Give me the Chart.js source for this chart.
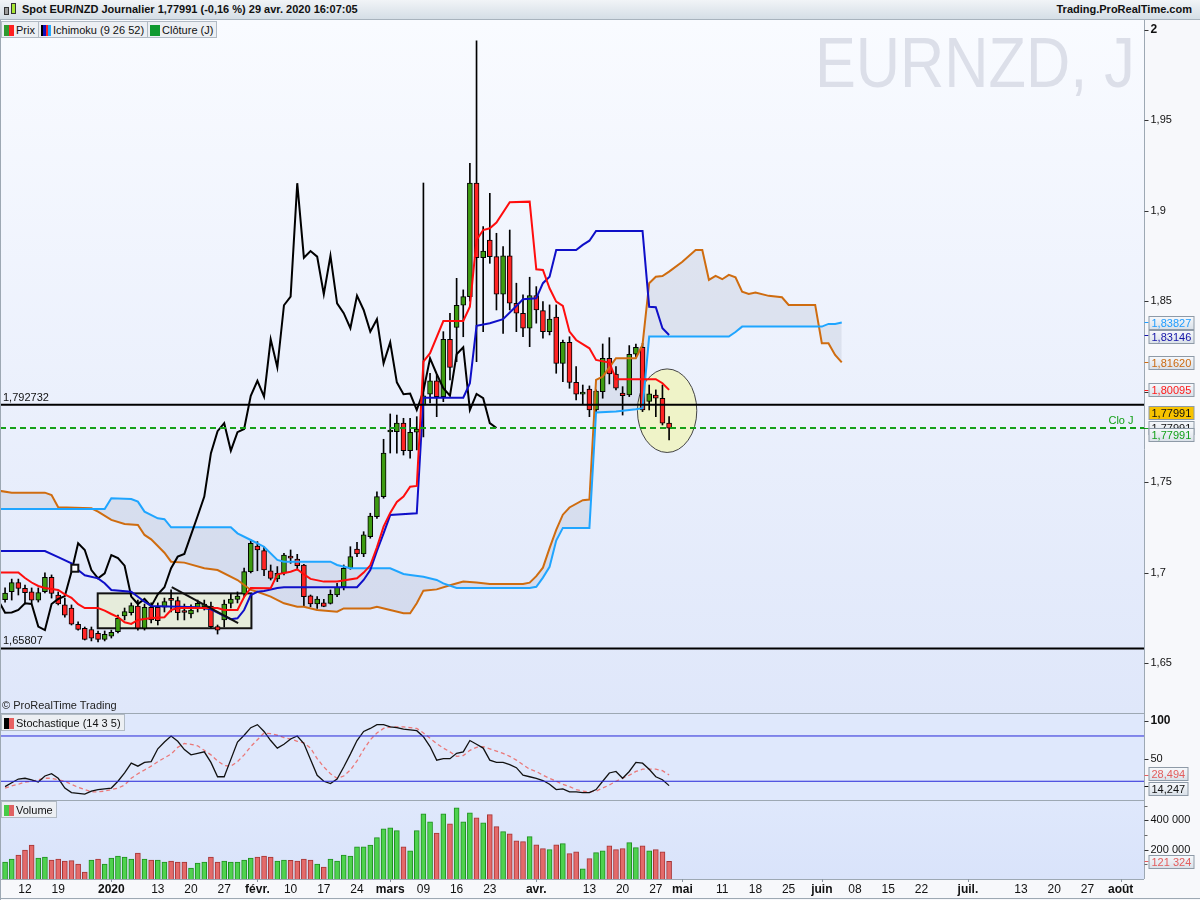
<!DOCTYPE html>
<html lang="fr">
<head>
<meta charset="utf-8">
<title>EURNZD, J</title>
<script src="https://cdn.jsdelivr.net/npm/chart.js@4.4.1/dist/chart.umd.min.js"></script>
<style>
body{margin:0;background:#fff;font-family:"Liberation Sans",Arial,sans-serif;}
#wrap{position:relative;width:1200px;height:900px;overflow:hidden;}
#c{position:absolute;left:0;top:0;}
.hdr{position:absolute;left:0;top:0;width:1200px;height:19px;line-height:19px;background:linear-gradient(#f1f4f7,#d5dee6);border-bottom:1px solid #a8b3bd;font-weight:bold;font-size:11px;color:#111;}
.hdr .ttl{position:absolute;left:22px;top:0;}
.hdr .site{position:absolute;right:8px;top:0;}
.ico i{position:absolute;width:5px;border:1px solid #333;box-sizing:border-box;}
.legs{position:absolute;left:1px;display:flex;}
.leg{height:17px;line-height:16px;font-size:11px;color:#111;background:#eceff3;border:1px solid #b1bac4;padding:0 3px 0 2px;white-space:nowrap;box-sizing:border-box;margin-right:-1px;}
.sw{display:inline-block;width:10px;height:11px;vertical-align:-2px;margin-right:2px;}
.copy{position:absolute;left:2px;top:699px;font-size:11px;color:#222;}
.wm{position:absolute;left:815px;top:28px;font-size:70px;line-height:1;color:#dcdfe9;transform:scaleX(.875);transform-origin:left top;white-space:nowrap;}
</style>
</head>
<body>
<div id="wrap">
<canvas id="c" width="1200" height="900"></canvas>
<div class="hdr">
  <span class="ico"><i style="left:4px;top:7px;height:8px;background:#9a9a9a"></i><i style="left:11px;top:3px;height:11px;background:#a6e634"></i></span>
  <span class="ttl">Spot EUR/NZD Journalier 1,77991 (-0,16 %) 29 avr. 2020 16:07:05</span>
  <span class="site">Trading.ProRealTime.com</span>
</div>
<div class="wm">EURNZD, J</div>
<div class="legs" style="top:21px">
  <div class="leg"><b class="sw" style="background:linear-gradient(90deg,#2f9a2f 50%,#ff2020 50%)"></b>Prix</div>
  <div class="leg"><b class="sw" style="background:linear-gradient(90deg,#000 25%,#1010c0 25%,#1010c0 50%,#ff2020 50%,#ff2020 75%,#22a8ff 75%)"></b>Ichimoku (9 26 52)</div>
  <div class="leg"><b class="sw" style="background:#109a30"></b>Clôture (J)</div>
</div>
<div class="copy">© ProRealTime Trading</div>
<div class="legs" style="top:714px">
  <div class="leg"><b class="sw" style="background:linear-gradient(90deg,#000 50%,#e86060 50%)"></b>Stochastique (14 3 5)</div>
</div>
<div class="legs" style="top:801px">
  <div class="leg"><b class="sw" style="background:linear-gradient(90deg,#46cc46 50%,#e06262 50%)"></b>Volume</div>
</div>
</div>

<script>
// ---- data (one entry per trading day, first one = 9 déc. 2019) ----
const FIRST_DAY = -3;   // day index of the first candle, day 0 = 12 déc.

const opens = [1.6850,1.6894,1.6944,1.6913,1.6894,1.6848,1.6894,1.6974,1.6876,1.6821,
  1.6804,1.6714,1.6692,1.6685,1.6664,1.6631,1.6649,1.6673,1.6760,1.6778,
  1.6815,1.6692,1.6808,1.6808,1.6808,1.6850,1.6845,1.6782,1.6771,1.6802,
  1.6810,1.6815,1.6701,1.6738,1.6830,1.6852,1.6882,1.7005,1.7147,1.7121,
  1.7010,1.6965,1.6996,1.7084,1.7075,1.7042,1.6871,1.6826,1.6833,1.6830,
  1.6876,1.6922,1.7024,1.7130,1.7103,1.7198,1.7309,1.7420,1.7777,1.7779,
  1.7826,1.7674,1.7776,1.7927,1.7986,1.8060,1.7973,1.8290,1.8356,1.8478,
  1.8526,1.9153,1.8741,1.8839,1.8747,1.8539,1.8752,1.8489,1.8434,1.8351,
  1.8531,1.8448,1.8332,1.8412,1.8157,1.8273,1.8052,1.7987,1.8014,1.7899,
  1.8000,1.8185,1.8098,1.7993,1.7982,1.8207,1.8246,1.7946,1.7982,1.7964,
  1.7826];
const highs = [1.6915,1.6964,1.6964,1.6931,1.6915,1.6915,1.6998,1.6987,1.6893,1.6859,
  1.6821,1.6727,1.6699,1.6699,1.6677,1.6677,1.6682,1.6765,1.6804,1.6832,
  1.6848,1.6826,1.6832,1.6832,1.6859,1.6904,1.6865,1.6826,1.6821,1.6848,
  1.6848,1.6837,1.6710,1.6848,1.6882,1.6893,1.7025,1.7180,1.7171,1.7143,
  1.7042,1.7033,1.7107,1.7125,1.7101,1.7045,1.6876,1.6867,1.6852,1.6904,
  1.6941,1.7042,1.7143,1.7167,1.7226,1.7328,1.7447,1.7737,1.7877,1.7871,
  1.7853,1.7853,1.7862,1.9154,1.8102,1.8093,1.8332,1.8434,1.8627,1.8563,
  1.9263,1.9940,1.8913,1.9097,1.8876,1.8802,1.8894,1.8600,1.8535,1.8633,
  1.8581,1.8498,1.8480,1.8480,1.8286,1.8304,1.8139,1.8037,1.8032,1.8010,
  1.8264,1.8299,1.8139,1.8028,1.8255,1.8264,1.8268,1.8037,1.8010,1.8037,
  1.7862];
const lows = [1.6837,1.6848,1.6876,1.6826,1.6832,1.6837,1.6887,1.6859,1.6821,1.6754,
  1.6710,1.6682,1.6627,1.6622,1.6616,1.6622,1.6638,1.6666,1.6738,1.6765,
  1.6682,1.6682,1.6721,1.6710,1.6782,1.6782,1.6738,1.6738,1.6749,1.6782,
  1.6793,1.6694,1.6660,1.6699,1.6804,1.6832,1.6865,1.6998,1.7010,1.6983,
  1.6959,1.6950,1.6987,1.7051,1.7014,1.6811,1.6811,1.6802,1.6811,1.6826,
  1.6867,1.6904,1.7018,1.7088,1.7088,1.7190,1.7300,1.7411,1.7661,1.7660,
  1.7650,1.7632,1.7678,1.7750,1.7938,1.7862,1.7945,1.8065,1.8166,1.8304,
  1.8500,1.8166,1.8332,1.8710,1.8452,1.8323,1.8452,1.8332,1.8304,1.8249,
  1.8379,1.8296,1.8314,1.8102,1.8056,1.8019,1.7954,1.7932,1.7862,1.7881,
  1.7964,1.8043,1.8010,1.7871,1.7973,1.8194,1.7890,1.7899,1.7862,1.7816,
  1.7733];
const closes = [1.6887,1.6944,1.6913,1.6889,1.6848,1.6889,1.6974,1.6885,1.6826,1.6765,
  1.6714,1.6686,1.6631,1.6637,1.6631,1.6659,1.6670,1.6747,1.6784,1.6817,
  1.6692,1.6808,1.6738,1.6734,1.6839,1.6846,1.6778,1.6779,1.6793,1.6830,
  1.6826,1.6701,1.6682,1.6826,1.6854,1.6870,1.7005,1.7162,1.7125,1.7014,
  1.6968,1.6996,1.7097,1.7080,1.7038,1.6867,1.6826,1.6854,1.6813,1.6880,
  1.6919,1.7024,1.7088,1.7103,1.7208,1.7313,1.7420,1.7660,1.7782,1.7826,
  1.7674,1.7776,1.7794,1.7977,1.8060,1.7973,1.8290,1.8135,1.8478,1.8526,
  1.9153,1.8741,1.8778,1.8747,1.8539,1.8752,1.8489,1.8434,1.8351,1.8531,
  1.8452,1.8332,1.8401,1.8157,1.8273,1.8052,1.7986,1.7990,1.7899,1.8004,
  1.8185,1.8098,1.8019,1.7978,1.8207,1.8246,1.7899,1.7988,1.7964,1.7826,
  1.7799];
const volumes = [116000,136000,164000,198000,232000,143000,150000,130000,136000,123000,
  125000,102000,48000,130000,136000,102000,143000,157000,150000,136000,
  177000,136000,130000,130000,116000,123000,116000,116000,75000,109000,
  116000,150000,116000,123000,116000,116000,130000,143000,150000,157000,
  150000,123000,130000,127000,123000,136000,130000,102000,82000,136000,
  123000,164000,157000,220000,220000,232000,282000,343000,350000,330000,
  220000,193000,330000,445000,391000,314000,445000,377000,486000,391000,
  452000,418000,384000,439000,357000,323000,309000,261000,255000,289000,
  234000,207000,200000,234000,241000,173000,186000,70000,139000,180000,
  193000,227000,200000,207000,248000,214000,227000,193000,200000,186000,
  121324];
// 1 = green volume bar, 0 = red
const volUp = [1,1,0,0,0,1,1,0,0,0, 0,0,0,1,0,1,1,1,1,1, 0,1,0,1,1,0,0,0,1,1,
  1,0,0,1,1,1,1,1,0,0, 0,1,1,0,0,0,0,1,0,1, 1,1,1,1,1,1,1,1,1,1,
  0,1,1,1,1,0,1,0,1,1, 1,0,1,0,0,1,0,0,0,1, 0,0,1,0,1,0,0,1,0,1,
  1,0,0,0,1,1,0,1,0,0, 0];
const stochK = [13,18,23,24,22,19,27,30,24,11, 5,4,3,7,9,10,11,20,31,44,
  40,45,46,63,72,80,73,62,55,57, 59,45,26,26,49,72,81,91,95,86,
  74,64,69,76,80,70,49,28,20,17, 23,39,56,74,86,90,95,95,92,91,
  89,88,87,79,66,48,50,50,57,59, 74,69,64,48,45,45,42,38,28,26,
  24,21,16,9,10,6,6,5,5,9, 20,31,33,24,33,45,44,36,26,22,
  14.247];
const stochD = [11,14,16,19,20,22,24,24,22,20, 16,12,9,6,6,7,9,11,15,24,
  30,35,40,46,51,56,65,70,69,67, 61,55,47,41,40,46,55,66,75,84,
  83,81,78,76,73,71,64,50,39,30, 24,27,35,47,62,75,84,90,92,92,
  92,91,90,84,77,70,64,59,53,54, 61,65,66,63,60,57,53,48,42,36,
  33,28,24,20,16,13,9,7,6,7, 11,15,20,24,28,33,36,36,36,34,
  28.494];

// Ichimoku lines, [day index, price] at the vertices seen on the chart
const tenkan = [[-4,1.7000],[-1,1.7000],[0,1.6970],[1,1.6945],[2,1.6926],[3,1.6915],[5,1.6904],[6,1.6880],
  [7,1.6860],[8,1.6825],[9,1.6804],[11,1.6804],[12,1.6790],[13,1.6771],[14,1.6754],[15,1.6725],[16,1.6716],
  [17,1.6738],[19,1.6749],[21,1.6753],[22,1.6793],[23,1.6804],[29,1.6804],[30,1.6793],[32,1.6793],[33,1.6865],
  [34,1.6915],[37,1.6913],[38,1.6990],[40,1.7005],[41,1.7018],[42,1.6990],[43,1.6965],[45,1.6950],[47,1.6950],
  [50,1.6968],[51,1.7000],[52,1.7040],[53,1.7140],[54,1.7254],[55,1.7330],[56,1.7390],[57,1.7420],[58,1.7475],
  [59,1.7479],[60,1.8166],[61,1.8213],[63,1.8391],[66,1.8391],[67,1.8470],[68,1.8839],[69,1.8894],[70,1.8904],
  [71,1.8935],[73,1.9048],[76,1.9051],[77,1.8677],[78,1.8673],[79,1.8572],[80,1.8498],[81,1.8474],[82,1.8332],
  [83,1.8286],[85,1.8240],[86,1.8176],[88,1.8161],[89,1.8069],[95,1.8069],[96,1.8047],[97,1.8010]];
const kijun = [[-4,1.7119],[3,1.7119],[5,1.7085],[7,1.7051],[8,1.7014],[9,1.6985],[11,1.6968],[12,1.6941],
  [13,1.6904],[16,1.6894],[18,1.6839],[19,1.6815],[26,1.6808],[28,1.6797],[31,1.6742],[32,1.6747],[33,1.6793],
  [34,1.6876],[35,1.6894],[36,1.6898],[38,1.6915],[39,1.6919],[50,1.6919],[51,1.6959],[52,1.7014],[53,1.7120],
  [54,1.7217],[55,1.7318],[59,1.7328],[60,1.7967],[66,1.7967],[67,1.8047],[68,1.8364],[70,1.8379],[72,1.8401],
  [74,1.8474],[75,1.8511],[77,1.8517],[78,1.8600],[79,1.8636],[80,1.8784],[83,1.8784],[84,1.8812],[85,1.8835],
  [86,1.8889],[93,1.8889],[94,1.8470],[95,1.8467],[96,1.8351],[97,1.8314]];
const senkouA = [[-4,1.7453],[-2,1.7442],[3,1.7442],[4,1.7429],[5,1.7361],[10,1.7355],[11,1.7337],[13,1.7291],
  [15,1.7269],[17,1.7263],[18,1.7208],[19,1.7184],[21,1.7110],[22,1.7060],[24,1.7055],[27,1.7024],[29,1.7014],
  [32,1.6959],[34,1.6904],[35,1.6894],[37,1.6867],[39,1.6830],[41,1.6811],[42,1.6811],[44,1.6793],[47,1.6784],
  [48,1.6802],[52,1.6802],[53,1.6811],[55,1.6793],[57,1.6775],[58,1.6775],[59,1.6830],[60,1.6900],[62,1.6907],
  [64,1.6930],[66,1.6950],[68,1.6945],[70,1.6937],[75,1.6937],[76,1.6944],[77,1.6980],[78,1.7027],[79,1.7135],
  [80,1.7236],[81,1.7320],[82,1.7360],[84,1.7400],[85,1.7404],[86,1.8065],[87,1.8083],[89,1.8185],[92,1.8185],
  [93,1.8260],[94,1.8600],[95,1.8636],[96,1.8640],[97,1.8664],[99,1.8719],[101,1.8784],[102,1.8784],[103,1.8618],
  [104,1.8640],[105,1.8622],[106,1.8646],[107,1.8633],[108,1.8553],[109,1.8541],[110,1.8548],[112,1.8530],
  [114,1.8522],[115,1.8480],[119,1.8480],[120,1.8268],[121,1.8268],[122,1.8203],[123,1.8162]];
const senkouB = [[-4,1.7352],[12,1.7352],[13,1.7411],[16,1.7407],[17,1.7392],[18,1.7337],[20,1.7300],[21,1.7295],
  [22,1.7250],[31,1.7250],[32,1.7217],[34,1.7180],[36,1.7143],[38,1.7070],[39,1.7060],[46,1.7060],[47,1.7042],
  [49,1.7024],[55,1.7024],[57,1.6992],[58,1.6987],[60,1.6977],[62,1.6959],[63,1.6940],[65,1.6915],[76,1.6915],
  [77,1.6921],[78,1.6972],[79,1.7032],[80,1.7177],[81,1.7247],[85,1.7247],[86,1.7885],[89,1.7890],[92,1.7903],
  [93,1.7909],[94,1.8305],[106,1.8305],[107,1.8330],[108,1.8360],[120,1.8360],[121,1.8375],[122,1.8375],[123,1.8383]];
// lagging line (close plotted 26 days back), first value sits on day -4
const CHIKOU_FIRST = -4;
const chikou = [1.6846,1.6778,1.6779,1.6793,1.6830,1.6826,1.6701,1.6682,1.6826,1.6854,
  1.6870,1.7005,1.7162,1.7125,1.7014,1.6968,1.6996,1.7097,1.7080,1.7038,
  1.6867,1.6826,1.6854,1.6813,1.6880,1.6919,1.7024,1.7088,1.7103,1.7208,
  1.7313,1.7420,1.7660,1.7782,1.7826,1.7674,1.7776,1.7794,1.7977,1.8060,
  1.7973,1.8290,1.8135,1.8478,1.8526,1.9153,1.8741,1.8778,1.8747,1.8539,
  1.8752,1.8489,1.8434,1.8351,1.8531,1.8452,1.8332,1.8401,1.8157,1.8273,
  1.8052,1.7986,1.7990,1.7899,1.8004,1.8185,1.8098,1.8019,1.7978,1.8207,
  1.8246,1.7899,1.7988,1.7964,1.7826,1.7799];

// levels and drawn objects
const LEVEL_HIGH = 1.792732, LEVEL_LOW = 1.65807, LAST_CLOSE = 1.77991;
const BOX = {d0: 10.95, d1: 34.1, p0: 1.6692, p1: 1.6885};
const TREND = [[22.1, 1.6919], [32.1, 1.6720]];
const MARK = [7.5, 1.7024];
const CIRCLE = {d: 96.7, p: 1.7895, dd: 4.47, dp: 0.0231};

// axis ticks
const xTickIdx = [0,5,13,20,25,30,35,40,45,50,55,60,65,70,77,85,90,95,99,105,110,115,120,125,130,135,142,150,155,160,165];
const xTickLabels = ['12','19','2020','13','20','27','févr.','10','17','24','mars','09','16','23','avr.','13','20','27',
  'mai','11','18','25','juin','08','15','22','juil.','13','20','27','août'];
const xTickBold = [0,0,1,0,0,0,1,0,0,0,1,0,0,0,1,0,0,0,1,0,0,0,1,0,0,0,1,0,0,0,1];
const priceTicks = [1.65,1.7,1.75,1.8,1.85,1.9,1.95,2];
const priceTickLabels = ['1,65','1,7','1,75','1,8','1,85','1,9','1,95','2'];
const stochTicks = [100,50];
const stochTickLabels = ['100','50'];
const volTicks = [400000,200000];
const volTickLabels = ['400 000','200 000'];

// ---- chart ----
const FONT = '"Liberation Sans", Arial, sans-serif';
const X_MIN = -3.765, X_MAX = 168.52;

const days = closes.map((_, k) => FIRST_DAY + k);
const toXY = arr => arr.map(p => ({x: p[0], y: p[1]}));

const bodyData = days.map((d, k) => ({x: d, y: [opens[k], closes[k]]}));
const wickData = days.map((d, k) => ({x: d, y: [lows[k], highs[k]]}));
const bodyColors = days.map((d, k) => closes[k] >= opens[k] ? '#3d9b11' : '#ff2424');
const volData = days.map((d, k) => ({x: d, y: volumes[k]}));
const chikouData = chikou.map((v, k) => ({x: CHIKOU_FIRST + k, y: v}));
const kData = stochK.map((v, k) => ({x: FIRST_DAY + k, y: v}));
const dData = stochD.map((v, k) => ({x: FIRST_DAY + k, y: v}));

function hline(ctx, a, y, color, w, dash) {
  ctx.save();
  ctx.strokeStyle = color; ctx.lineWidth = w; ctx.setLineDash(dash || []);
  ctx.beginPath(); ctx.moveTo(a.left, y); ctx.lineTo(a.right, y); ctx.stroke();
  ctx.restore();
}

function tag(ctx, x, yc, text, color, bg) {
  ctx.font = '11px ' + FONT;
  const w = Math.round(ctx.measureText(text).width) + 5, h = 13;
  const y = Math.round(yc - h / 2) + 0.5;
  if (bg) {
    ctx.fillStyle = bg;
  } else {
    const g = ctx.createLinearGradient(0, y, 0, y + h);
    g.addColorStop(0, '#f7f9fc'); g.addColorStop(1, '#d9e0e8');
    ctx.fillStyle = g;
  }
  ctx.fillRect(x + 0.5, y, w, h);
  ctx.strokeStyle = '#8e9aa7'; ctx.lineWidth = 1;
  ctx.strokeRect(x + 0.5, y, w, h);
  ctx.fillStyle = color; ctx.textAlign = 'left'; ctx.textBaseline = 'middle';
  ctx.fillText(text, x + 3, y + h / 2 + 0.5);
}

const prtPlugin = {
  id: 'prt',
  beforeDraw(chart) {
    const {ctx, chartArea: a, scales: s} = chart;
    ctx.save();
    ctx.fillStyle = '#f7f8fb';
    ctx.fillRect(0, 0, chart.width, chart.height);
    let g = ctx.createLinearGradient(0, s.yPrice.top, 0, s.yPrice.bottom);
    g.addColorStop(0, '#f9fbff'); g.addColorStop(1, '#dfe7fa');
    ctx.fillStyle = g;
    ctx.fillRect(a.left, s.yPrice.top, a.right - a.left, s.yPrice.bottom - s.yPrice.top);
    ctx.fillStyle = '#dfe8fc';
    ctx.fillRect(a.left, s.yStoch.top, a.right - a.left, s.yStoch.bottom - s.yStoch.top);
    g = ctx.createLinearGradient(0, s.yVol.top, 0, s.yVol.bottom);
    g.addColorStop(0, '#dfe8fc'); g.addColorStop(1, '#d9e3fa');
    ctx.fillStyle = g;
    ctx.fillRect(a.left, s.yVol.top, a.right - a.left, s.yVol.bottom - s.yVol.top);
    ctx.restore();
  },
  beforeDatasetsDraw(chart) {
    const {ctx, scales: {x, yPrice: y}} = chart;
    ctx.save();
    // rectangle drawn on the chart
    const bx0 = x.getPixelForValue(BOX.d0), bx1 = x.getPixelForValue(BOX.d1);
    const by0 = y.getPixelForValue(BOX.p1), by1 = y.getPixelForValue(BOX.p0);
    ctx.fillStyle = '#e6ecdb';
    ctx.fillRect(bx0, by0, bx1 - bx0, by1 - by0);
    ctx.strokeStyle = '#111'; ctx.lineWidth = 2;
    ctx.strokeRect(bx0, by0, bx1 - bx0, by1 - by0);
    // ellipse
    const cx = x.getPixelForValue(CIRCLE.d), cy = y.getPixelForValue(CIRCLE.p);
    const rx = x.getPixelForValue(CIRCLE.d + CIRCLE.dd) - cx;
    const ry = cy - y.getPixelForValue(CIRCLE.p + CIRCLE.dp);
    ctx.beginPath(); ctx.ellipse(cx, cy, rx, ry, 0, 0, Math.PI * 2);
    ctx.fillStyle = '#eff3c8'; ctx.fill();
    ctx.strokeStyle = '#444'; ctx.lineWidth = 1; ctx.stroke();
    ctx.restore();
  },
  afterDatasetsDraw(chart) {
    const {ctx, chartArea: a, scales: {x, yPrice: y, yStoch: ys, yVol: yv}} = chart;
    ctx.save();
    // levels
    hline(ctx, a, y.getPixelForValue(LEVEL_HIGH), '#000', 2);
    hline(ctx, a, y.getPixelForValue(LEVEL_LOW), '#000', 2);
    hline(ctx, a, y.getPixelForValue(LAST_CLOSE), '#15a018', 2, [6, 4]);
    hline(ctx, a, ys.getPixelForValue(80), '#2626d8', 1);
    hline(ctx, a, ys.getPixelForValue(20), '#2626d8', 1);
    // trend line and square marker
    ctx.strokeStyle = '#111'; ctx.lineWidth = 2;
    ctx.beginPath();
    ctx.moveTo(x.getPixelForValue(TREND[0][0]), y.getPixelForValue(TREND[0][1]));
    ctx.lineTo(x.getPixelForValue(TREND[1][0]), y.getPixelForValue(TREND[1][1]));
    ctx.stroke();
    const mx = x.getPixelForValue(MARK[0]), my = y.getPixelForValue(MARK[1]);
    ctx.fillStyle = '#fff'; ctx.fillRect(mx - 3.5, my - 3.5, 7, 7);
    ctx.strokeRect(mx - 3.5, my - 3.5, 7, 7);

    // texts inside the price pane
    ctx.font = '11px ' + FONT; ctx.fillStyle = '#111'; ctx.textAlign = 'left'; ctx.textBaseline = 'alphabetic';
    ctx.fillText('1,792732', 3, y.getPixelForValue(LEVEL_HIGH) - 4);
    ctx.fillText('1,65807', 3, y.getPixelForValue(LEVEL_LOW) - 4);
    ctx.fillStyle = '#15a018'; ctx.textAlign = 'center';
    ctx.fillText('Clo J', 1121, y.getPixelForValue(LAST_CLOSE) - 4);

    // pane borders
    ctx.strokeStyle = '#9da8b3'; ctx.lineWidth = 1;
    ctx.beginPath();
    [ys.top, yv.top, a.bottom].forEach(v => { const p = Math.round(v) + 0.5; ctx.moveTo(0, p); ctx.lineTo(a.right, p); });
    ctx.moveTo(Math.round(a.right) + 0.5, a.top); ctx.lineTo(Math.round(a.right) + 0.5, a.bottom);
    ctx.moveTo(0.5, a.top); ctx.lineTo(0.5, chart.height);
    ctx.moveTo(0, chart.height - 1.5); ctx.lineTo(chart.width, chart.height - 1.5);
    ctx.stroke();

    // right axis ticks
    const ax = Math.round(a.right) + 0.5;
    function axisLabels(scale, vals, labels, boldFirst) {
      vals.forEach((v, k) => {
        const p = scale.getPixelForValue(v);
        ctx.strokeStyle = '#333'; ctx.beginPath(); ctx.moveTo(ax, Math.round(p) + 0.5); ctx.lineTo(ax + 4, Math.round(p) + 0.5); ctx.stroke();
        ctx.font = ((boldFirst && labels[k] === boldFirst) ? 'bold 12px ' : '11px ') + FONT;
        ctx.fillStyle = '#111'; ctx.textAlign = 'left'; ctx.textBaseline = 'middle';
        ctx.fillText(labels[k], ax + 6, p);
      });
    }
    axisLabels(y, priceTicks, priceTickLabels, '2');
    axisLabels(ys, stochTicks, stochTickLabels, '100');
    axisLabels(yv, volTicks, volTickLabels, null);
    [100000, 300000, 500000].forEach(v => {
      const p = Math.round(yv.getPixelForValue(v)) + 0.5;
      ctx.strokeStyle = '#666'; ctx.beginPath(); ctx.moveTo(ax, p); ctx.lineTo(ax + 3, p); ctx.stroke();
    });

    // last value tags
    const tags = [
      {s: y, v: 1.83827, t: '1,83827', c: '#1e9cff', n: 0},
      {s: y, v: 1.83146, t: '1,83146', c: '#1414a8', n: 1.5},
      {s: y, v: 1.81620, t: '1,81620', c: '#cc6a10', n: 0},
      {s: y, v: 1.80095, t: '1,80095', c: '#ff1a1a', n: 0},
      {s: y, v: LAST_CLOSE, t: '1,77991', c: '#111', n: -1},
      {s: y, v: LAST_CLOSE, t: '1,77991', c: '#111', n: -16, bg: '#f7c300'},
      {s: y, v: LAST_CLOSE, t: '1,77991', c: '#14a01a', n: 6},
      {s: ys, v: 28.494, t: '28,494', c: '#e35d5d', n: -1.5},
      {s: ys, v: 14.247, t: '14,247', c: '#111', n: 2.5},
      {s: yv, v: 121324, t: '121 324', c: '#e35d5d', n: 0}
    ];
    tags.forEach(g => {
      const p = g.s.getPixelForValue(g.v);
      ctx.strokeStyle = g.c; ctx.beginPath(); ctx.moveTo(ax, Math.round(p) + 0.5); ctx.lineTo(ax + 4, Math.round(p) + 0.5); ctx.stroke();
    });
    tags.forEach(g => tag(ctx, ax + 4, g.s.getPixelForValue(g.v) + g.n, g.t, g.c, g.bg));

    // x axis labels
    ctx.textAlign = 'center'; ctx.textBaseline = 'middle';
    xTickIdx.forEach((d, k) => {
      const px = x.getPixelForValue(d);
      ctx.font = (xTickBold[k] ? 'bold 12px ' : '12px ') + FONT;
      ctx.fillStyle = '#111';
      ctx.fillText(xTickLabels[k], px, a.bottom + 11);
      if (xTickBold[k]) {
        ctx.strokeStyle = '#8a94a0';
        ctx.beginPath(); ctx.moveTo(Math.round(px) + 0.5, a.bottom); ctx.lineTo(Math.round(px) + 0.5, a.bottom + 3); ctx.stroke();
      }
    });
    ctx.restore();
  }
};

const noTicks = {display: false};
new Chart(document.getElementById('c'), {
  type: 'line',
  data: {
    datasets: [
      {type: 'bar', label: 'mèches', data: wickData, yAxisID: 'yPrice', backgroundColor: '#000',
       barThickness: 1, grouped: false, minBarLength: 1, order: 20},
      {type: 'bar', label: 'Prix', data: bodyData, yAxisID: 'yPrice', backgroundColor: bodyColors,
       borderColor: '#000', borderWidth: 1, borderSkipped: false, barThickness: 5, grouped: false,
       minBarLength: 2, order: 19},
      {label: 'Senkou A', data: toXY(senkouA), yAxisID: 'yPrice', borderColor: '#cf6c0f', borderWidth: 2,
       pointRadius: 0, tension: 0, fill: '+1', backgroundColor: 'rgba(160,168,190,0.22)', order: 18},
      {label: 'Senkou B', data: toXY(senkouB), yAxisID: 'yPrice', borderColor: '#1fa5ff', borderWidth: 2,
       pointRadius: 0, tension: 0, fill: false, order: 17},
      {label: 'Chikou', data: chikouData, yAxisID: 'yPrice', borderColor: '#000', borderWidth: 2,
       pointRadius: 0, tension: 0, fill: false, order: 16},
      {label: 'Kijun', data: toXY(kijun), yAxisID: 'yPrice', borderColor: '#0f0fc8', borderWidth: 2,
       pointRadius: 0, tension: 0, fill: false, order: 15},
      {label: 'Tenkan', data: toXY(tenkan), yAxisID: 'yPrice', borderColor: '#ff0d0d', borderWidth: 2,
       pointRadius: 0, tension: 0, fill: false, order: 14},
      {label: '%D', data: dData, yAxisID: 'yStoch', borderColor: '#ea7878', borderWidth: 1.3, borderDash: [4, 3],
       pointRadius: 0, tension: 0, fill: false, order: 13},
      {label: '%K', data: kData, yAxisID: 'yStoch', borderColor: '#111', borderWidth: 1.3,
       pointRadius: 0, tension: 0, fill: false, order: 12},
      {type: 'bar', label: 'Volume', data: volData, yAxisID: 'yVol',
       backgroundColor: volUp.map(u => u ? '#4ed24e' : '#e46a6a'),
       borderColor: volUp.map(u => u ? '#1f8f1f' : '#a53535'),
       borderWidth: 1, barThickness: 5, grouped: false, order: 11}
    ]
  },
  options: {
    responsive: false,
    animation: false,
    devicePixelRatio: 1,
    events: [],
    layout: {padding: {top: 20, left: 0, right: 0, bottom: 0}},
    plugins: {legend: {display: false}, tooltip: {enabled: false}, filler: {drawTime: 'beforeDatasetsDraw'}},
    scales: {
      x: {type: 'linear', min: X_MIN, max: X_MAX, offset: false, grid: {display: false}, border: {display: false},
          ticks: noTicks, afterFit(s) { s.height = 21; }},
      yPrice: {type: 'linear', position: 'right', stack: 'pane', stackWeight: 693, min: 1.62235, max: 2.00553,
          grid: {display: false}, border: {display: false}, ticks: noTicks, afterFit(s) { s.width = 56; }},
      yStoch: {type: 'linear', position: 'right', stack: 'pane', stackWeight: 87, min: -4.8, max: 110.46,
          grid: {display: false}, border: {display: false}, ticks: noTicks, afterFit(s) { s.width = 56; }},
      yVol: {type: 'linear', position: 'right', stack: 'pane', stackWeight: 79, min: 0, max: 539250,
          grid: {display: false}, border: {display: false}, ticks: noTicks, afterFit(s) { s.width = 56; }}
    }
  },
  plugins: [prtPlugin]
});
</script>
</body>
</html>
